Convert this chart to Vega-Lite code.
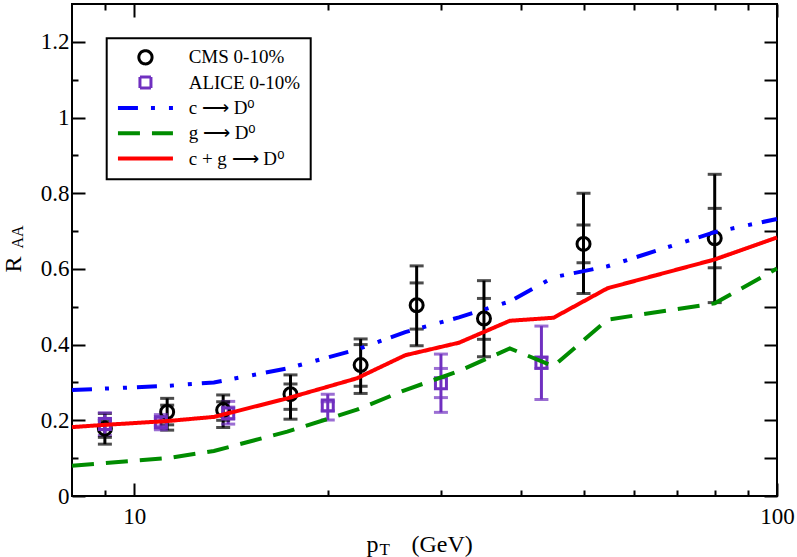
{
  "$schema": "https://vega.github.io/schema/vega-lite/v6.json",
  "width": 705,
  "height": 492,
  "autosize": {"type": "none"},
  "padding": {"left": 72, "top": 4, "right": 20, "bottom": 61},
  "background": "white",
  "view": {"stroke": "black", "strokeWidth": 2},
  "config": {
    "font": "Liberation Serif",
    "axis": {"labelFont": "Liberation Serif", "titleFont": "Liberation Serif", "labelColor": "black", "titleColor": "black", "tickColor": "black", "tickWidth": 2, "grid": false, "domain": false, "titleFontWeight": "normal", "labelFlush": false, "labelOverlap": false},
    "legend": {"strokeWidth": 2}
  },
  "datasets": {
    "curves": [
      {"series": "c ⟶ D⁰", "pt": 8, "v": 0.280},
      {"series": "c ⟶ D⁰", "pt": 11.25, "v": 0.291},
      {"series": "c ⟶ D⁰", "pt": 13.3, "v": 0.300},
      {"series": "c ⟶ D⁰", "pt": 17.3, "v": 0.337},
      {"series": "c ⟶ D⁰", "pt": 22.2, "v": 0.387},
      {"series": "c ⟶ D⁰", "pt": 26.4, "v": 0.433},
      {"series": "c ⟶ D⁰", "pt": 32, "v": 0.472},
      {"series": "c ⟶ D⁰", "pt": 38.4, "v": 0.514},
      {"series": "c ⟶ D⁰", "pt": 44.9, "v": 0.578},
      {"series": "c ⟶ D⁰", "pt": 54.5, "v": 0.607},
      {"series": "c ⟶ D⁰", "pt": 80, "v": 0.697},
      {"series": "c ⟶ D⁰", "pt": 100, "v": 0.732},
      {"series": "g ⟶ D⁰", "pt": 8, "v": 0.080},
      {"series": "g ⟶ D⁰", "pt": 9, "v": 0.087},
      {"series": "g ⟶ D⁰", "pt": 11.25, "v": 0.100},
      {"series": "g ⟶ D⁰", "pt": 13.3, "v": 0.119},
      {"series": "g ⟶ D⁰", "pt": 17.3, "v": 0.170},
      {"series": "g ⟶ D⁰", "pt": 22.2, "v": 0.228},
      {"series": "g ⟶ D⁰", "pt": 26.4, "v": 0.280},
      {"series": "g ⟶ D⁰", "pt": 32, "v": 0.330},
      {"series": "g ⟶ D⁰", "pt": 38.4, "v": 0.390},
      {"series": "g ⟶ D⁰", "pt": 44.9, "v": 0.343},
      {"series": "g ⟶ D⁰", "pt": 54.5, "v": 0.466},
      {"series": "g ⟶ D⁰", "pt": 80, "v": 0.509},
      {"series": "g ⟶ D⁰", "pt": 100, "v": 0.601},
      {"series": "c + g ⟶ D⁰", "pt": 8, "v": 0.182},
      {"series": "c + g ⟶ D⁰", "pt": 9, "v": 0.188},
      {"series": "c + g ⟶ D⁰", "pt": 11.25, "v": 0.198},
      {"series": "c + g ⟶ D⁰", "pt": 13.3, "v": 0.209},
      {"series": "c + g ⟶ D⁰", "pt": 17.3, "v": 0.258},
      {"series": "c + g ⟶ D⁰", "pt": 22.2, "v": 0.311},
      {"series": "c + g ⟶ D⁰", "pt": 26.4, "v": 0.372},
      {"series": "c + g ⟶ D⁰", "pt": 32, "v": 0.405},
      {"series": "c + g ⟶ D⁰", "pt": 38.4, "v": 0.463},
      {"series": "c + g ⟶ D⁰", "pt": 44.9, "v": 0.471},
      {"series": "c + g ⟶ D⁰", "pt": 54.5, "v": 0.549},
      {"series": "c + g ⟶ D⁰", "pt": 80, "v": 0.625},
      {"series": "c + g ⟶ D⁰", "pt": 100, "v": 0.683}
    ],
    "pts": [
      {"series": "CMS 0-10%", "pt": 9, "v": 0.178, "lo": 0.137, "hi": 0.218, "slo": 0.155, "shi": 0.200},
      {"series": "CMS 0-10%", "pt": 11.25, "v": 0.222, "lo": 0.174, "hi": 0.258, "slo": 0.188, "shi": 0.240},
      {"series": "CMS 0-10%", "pt": 13.75, "v": 0.227, "lo": 0.181, "hi": 0.267, "slo": 0.200, "shi": 0.249},
      {"series": "CMS 0-10%", "pt": 17.5, "v": 0.269, "lo": 0.203, "hi": 0.320, "slo": 0.229, "shi": 0.296},
      {"series": "CMS 0-10%", "pt": 22.5, "v": 0.346, "lo": 0.271, "hi": 0.415, "slo": 0.290, "shi": 0.400},
      {"series": "CMS 0-10%", "pt": 27.5, "v": 0.504, "lo": 0.397, "hi": 0.608, "slo": 0.441, "shi": 0.563},
      {"series": "CMS 0-10%", "pt": 35, "v": 0.469, "lo": 0.368, "hi": 0.569, "slo": 0.414, "shi": 0.522},
      {"series": "CMS 0-10%", "pt": 50, "v": 0.666, "lo": 0.535, "hi": 0.800, "slo": 0.616, "shi": 0.716},
      {"series": "CMS 0-10%", "pt": 80, "v": 0.681, "lo": 0.511, "hi": 0.850, "slo": 0.603, "shi": 0.760},
      {"series": "ALICE 0-10%", "pt": 9, "v": 0.190, "lo": 0.160, "hi": 0.220, "slo": 0.175, "shi": 0.205},
      {"series": "ALICE 0-10%", "pt": 11, "v": 0.195, "lo": 0.175, "hi": 0.215, "slo": 0.185, "shi": 0.205},
      {"series": "ALICE 0-10%", "pt": 14, "v": 0.218, "lo": 0.190, "hi": 0.250, "slo": 0.205, "shi": 0.235},
      {"series": "ALICE 0-10%", "pt": 20, "v": 0.239, "lo": 0.201, "hi": 0.269, "slo": 0.225, "shi": 0.249},
      {"series": "ALICE 0-10%", "pt": 30, "v": 0.298, "lo": 0.221, "hi": 0.375, "slo": 0.260, "shi": 0.337},
      {"series": "ALICE 0-10%", "pt": 43, "v": 0.352, "lo": 0.255, "hi": 0.449, "slo": 0.337, "shi": 0.367}
    ]
  },
  "resolve": {"axis": {"x": "independent", "y": "independent"}},
  "layer": [
    {
      "data": {"name": "pts"},
      "mark": {"type": "rule", "strokeWidth": 3},
      "encoding": {
        "x": {"field": "pt", "type": "quantitative", "scale": {"type": "log", "domain": [8, 100], "nice": false},
              "axis": {"orient": "top", "values": [10, 100], "tickSize": -13, "labels": false, "title": "T", "titleFontSize": 17, "titleX": 307, "titleY": 550, "titleAlign": "left", "titleBaseline": "alphabetic", "titleAnchor": null}},
        "y": {"field": "lo", "type": "quantitative", "scale": {"domain": [0, 1.3], "nice": false, "zero": false},
              "axis": {"orient": "right", "values": [0, 0.2, 0.4, 0.6, 0.8, 1, 1.2], "tickSize": -13, "labels": false, "title": "AA", "titleFontSize": 16, "titleAngle": -90, "titleX": -755, "titleY": 244, "titleAlign": "left", "titleBaseline": "alphabetic", "titleAnchor": null}},
        "y2": {"field": "hi"},
        "color": {"field": "series", "type": "nominal",
                  "scale": {"domain": ["CMS 0-10%", "ALICE 0-10%", "c ⟶ D⁰", "g ⟶ D⁰", "c + g ⟶ D⁰"], "range": ["#000000", "#7030c0", "#0000ff", "#008c00", "#ff0000"]},
                  "legend": {"title": null, "orient": "none", "legendX": 34.7, "legendY": 34.3, "padding": 10, "strokeColor": "black", "fillColor": "white",
                             "labelFont": "Liberation Serif", "labelFontSize": 19, "labelColor": "black", "labelOffset": 53, "labelLimit": 300,
                             "symbolSize": 121, "rowPadding": 6.3, "clipHeight": 18, "symbolFillColor": "transparent",
                             "encode": {"symbols": {"update": {
                               "shape": {"signal": "datum.value === 'CMS 0-10%' ? 'M4.7,0A1.2,1.2,0,1,1,2.3,0A1.2,1.2,0,1,1,4.7,0Z' : datum.value === 'ALICE 0-10%' ? 'M2.5,-1H4.5V1H2.5Z' : 'M-1.5,0H8.5'"},
                               "strokeDash": {"signal": "datum.value === 'c ⟶ D⁰' ? [20,13,4,14,4,10] : datum.value === 'g ⟶ D⁰' ? [22,12] : [1,0]"},
                               "strokeWidth": {"signal": "datum.value === 'CMS 0-10%' || datum.value === 'ALICE 0-10%' ? 3 : 4"},
                               "fill": {"value": "transparent"},
                               "fillOpacity": {"value": 0},
                               "size": {"value": 121},
                               "opacity": {"value": 1}
                             }}}}}
      }
    },
    {
      "data": {"name": "pts"},
      "transform": [{"fold": ["lo", "hi"], "as": ["k", "cap"]}],
      "mark": {"type": "tick", "orient": "horizontal", "size": 14, "thickness": 3},
      "encoding": {
        "x": {"field": "pt", "type": "quantitative", "scale": {"type": "log", "domain": [8, 100], "nice": false},
              "axis": {"orient": "bottom", "values": [9, 20, 30, 40, 50, 60, 70, 80, 90], "tickSize": -6, "labels": false, "title": "(GeV)", "titleFontSize": 24, "titleX": 339, "titleY": 55, "titleAlign": "left", "titleBaseline": "alphabetic", "titleAnchor": null}},
        "y": {"field": "cap", "type": "quantitative", "scale": {"domain": [0, 1.3], "nice": false, "zero": false},
              "axis": {"orient": "left", "values": [0.1, 0.3, 0.5, 0.7, 0.9, 1.1], "tickSize": -6, "labels": false, "title": null}},
        "color": {"field": "series", "type": "nominal"}
      }
    },
    {
      "data": {"name": "pts"},
      "transform": [{"fold": ["slo", "shi"], "as": ["k", "cap"]}],
      "mark": {"type": "tick", "orient": "horizontal", "size": 14, "thickness": 3},
      "encoding": {
        "x": {"field": "pt", "type": "quantitative", "scale": {"type": "log", "domain": [8, 100], "nice": false},
              "axis": {"orient": "top", "values": [9, 20, 30, 40, 50, 60, 70, 80, 90], "tickSize": -6, "labels": false, "title": null}},
        "y": {"field": "cap", "type": "quantitative", "scale": {"domain": [0, 1.3], "nice": false, "zero": false},
              "axis": {"orient": "right", "values": [0.1, 0.3, 0.5, 0.7, 0.9, 1.1], "tickSize": -13, "labels": false, "title": null}},
        "color": {"field": "series", "type": "nominal"}
      }
    },
    {
      "data": {"name": "pts"},
      "transform": [{"filter": "datum.series === 'CMS 0-10%'"}],
      "mark": {"type": "point", "shape": "circle", "size": 169, "strokeWidth": 3, "filled": false, "opacity": 1},
      "encoding": {
        "x": {"field": "pt", "type": "quantitative", "scale": {"type": "log", "domain": [8, 100], "nice": false}, "axis": null},
        "y": {"field": "v", "type": "quantitative", "scale": {"domain": [0, 1.3], "nice": false, "zero": false}, "axis": null},
        "color": {"field": "series", "type": "nominal"}
      }
    },
    {
      "data": {"name": "pts"},
      "transform": [{"filter": "datum.series === 'ALICE 0-10%'"}],
      "mark": {"type": "point", "shape": "square", "size": 121, "strokeWidth": 3, "filled": false, "opacity": 1},
      "encoding": {
        "x": {"field": "pt", "type": "quantitative", "scale": {"type": "log", "domain": [8, 100], "nice": false}, "axis": null},
        "y": {"field": "v", "type": "quantitative", "scale": {"domain": [0, 1.3], "nice": false, "zero": false}, "axis": null},
        "color": {"field": "series", "type": "nominal"}
      }
    },
    {
      "data": {"name": "curves"},
      "mark": {"type": "line", "strokeWidth": 4},
      "encoding": {
        "x": {"field": "pt", "type": "quantitative", "scale": {"type": "log", "domain": [8, 100], "nice": false},
              "axis": {"orient": "bottom", "values": [10, 100], "tickSize": -13, "labelPadding": 22, "labelFontSize": 23, "format": "~g", "title": "p", "titleFontSize": 24, "titleX": 294, "titleY": 55, "titleAlign": "left", "titleBaseline": "alphabetic", "titleAnchor": null}},
        "y": {"field": "v", "type": "quantitative", "scale": {"domain": [0, 1.3], "nice": false, "zero": false},
              "axis": {"orient": "left", "values": [0, 0.2, 0.4, 0.6, 0.8, 1, 1.2], "tickSize": -13, "labelPadding": 16, "labelFontSize": 23, "format": "~g", "title": "R", "titleFontSize": 24, "titleAngle": -90, "titleX": -52, "titleY": 268, "titleAlign": "left", "titleBaseline": "alphabetic", "titleAnchor": null}},
        "strokeDash": {"field": "series", "type": "nominal", "legend": null,
                       "scale": {"domain": ["c ⟶ D⁰", "g ⟶ D⁰", "c + g ⟶ D⁰"], "range": [[20, 13, 4, 14, 4, 10], [22, 12], [1, 0]]}},
        "color": {"field": "series", "type": "nominal"}
      }
    }
  ]
}
